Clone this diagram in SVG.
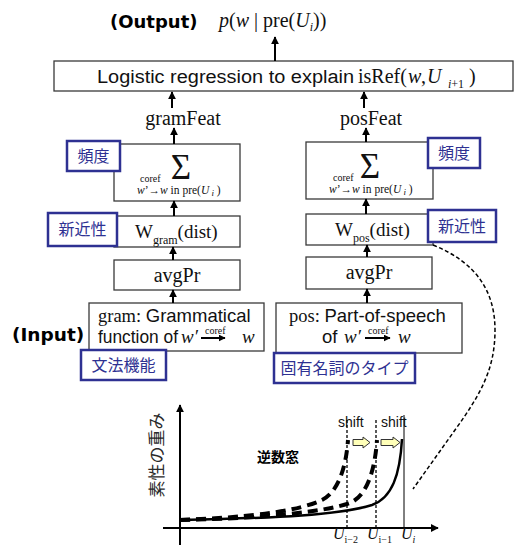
<svg xmlns="http://www.w3.org/2000/svg" width="516" height="549" viewBox="0 0 516 549">
  <style>
    .box { fill: #ffffff; stroke: #3a3a3a; stroke-width: 1.3; }
    .tag { fill: #ffffff; stroke: #2e3192; stroke-width: 2.5; }
    .tagtxt { font-family: "Noto Sans CJK JP", sans-serif; font-size: 16px; fill: #2e3192; text-anchor: middle; }
    .serif { font-family: "Liberation Serif", "Times New Roman", serif; fill: #111; }
    .sans { font-family: "Liberation Sans", Arial, sans-serif; fill: #111; }
    .it { font-style: italic; }
    .bold { font-family: "DejaVu Sans", Verdana, sans-serif; font-weight: bold; fill: #000; }
    .flow { stroke: #000; stroke-width: 2; fill: none; marker-end: url(#head); }
    .axis { stroke: #000; stroke-width: 2; fill: none; marker-end: url(#axhead); }
  </style>
  <defs>
    <marker id="head" viewBox="0 0 10 10" refX="9" refY="5" markerWidth="4" markerHeight="4.5" orient="auto" markerUnits="strokeWidth">
      <path d="M0,0 L10,5 L0,10 Z" fill="#000"/>
    </marker>
    <marker id="axhead" viewBox="0 0 10 10" refX="9" refY="5" markerWidth="4" markerHeight="4" orient="auto" markerUnits="strokeWidth">
      <path d="M0,0 L10,5 L0,10 Z" fill="#000"/>
    </marker>
    <marker id="small" viewBox="0 0 10 10" refX="9" refY="5" markerWidth="3.5" markerHeight="3.5" orient="auto" markerUnits="strokeWidth">
      <path d="M0,0 L10,5 L0,10 Z" fill="#000"/>
    </marker>
  </defs>

  <!-- output label -->
  <g id="output">
    <text class="bold" x="110" y="28" font-size="18">(Output)</text>
    <text class="serif" x="219" y="27" font-size="20"><tspan class="it">p</tspan>(<tspan class="it">w</tspan> | pre(<tspan class="it">U</tspan><tspan font-size="12" class="it" dy="4">i</tspan><tspan dy="-4">))</tspan></text>
  </g>

  <!-- logistic regression -->
  <g id="logreg">
    <rect class="box" x="54" y="61" width="459" height="30" stroke="#222"/>
    <text class="sans" x="97" y="83" font-size="18" textLength="257" lengthAdjust="spacingAndGlyphs">Logistic regression to explain</text>
    <text class="serif" x="358" y="83" font-size="20">isRef(</text>
    <text class="serif it" x="408" y="83" font-size="20">w</text>
    <text class="serif" x="421" y="83" font-size="20">,</text>
    <text class="serif it" x="427" y="83" font-size="20">U</text>
    <text class="serif" x="448" y="88" font-size="12"><tspan class="it">i</tspan>+1</text>
    <text class="serif" x="469" y="83" font-size="20">)</text>
  </g>

  <!-- gram column -->
  <g id="gramFeat">
    <text class="serif" x="183" y="125" font-size="20" text-anchor="middle">gramFeat</text>
  </g>
  <g id="gramSum">
    <rect class="box" x="114" y="144" width="126" height="57"/>
    <text class="serif" x="181" y="179" font-size="35" text-anchor="middle">Σ</text>
    <text class="serif" x="140" y="182" font-size="10">coref</text>
    <text class="serif" x="137" y="194" font-size="11.5"><tspan class="it">w</tspan>’→<tspan class="it">w</tspan> in pre(<tspan class="it">U</tspan><tspan dy="2" font-size="9" class="it"> i</tspan><tspan dy="-2"> )</tspan></text>
  </g>
  <g id="gramW">
    <rect class="box" x="114" y="216" width="126" height="31"/>
    <text class="serif" x="135" y="238" font-size="19">W<tspan font-size="12" dy="6">gram</tspan><tspan dy="-6">(dist)</tspan></text>
  </g>
  <g id="gramAvg">
    <rect class="box" x="114" y="260" width="126" height="30"/>
    <text class="serif" x="177" y="282" font-size="20" text-anchor="middle">avgPr</text>
  </g>
  <g id="gramInput">
    <rect class="box" x="89" y="303" width="175" height="48"/>
    <text x="98" y="322" font-size="18.5"><tspan class="serif">gram: </tspan><tspan class="sans">Grammatical</tspan></text>
    <text class="sans" x="98" y="343" font-size="18" textLength="80" lengthAdjust="spacingAndGlyphs">function of</text>
    <text class="serif it" x="181" y="343" font-size="19">w′</text>
    <text class="serif" x="205" y="334" font-size="10">coref</text>
    <line x1="201" y1="338" x2="225" y2="338" stroke="#000" stroke-width="2" marker-end="url(#small)"/>
    <text class="serif it" x="242" y="343" font-size="19">w</text>
  </g>
  <g id="inputLabel">
    <text class="bold" x="12" y="341" font-size="18.5">(Input)</text>
  </g>

  <!-- pos column -->
  <g id="posFeat">
    <text class="serif" x="371" y="125" font-size="20" text-anchor="middle">posFeat</text>
  </g>
  <g id="posSum">
    <rect class="box" x="306" y="142" width="127" height="57"/>
    <text class="serif" x="370" y="178" font-size="35" text-anchor="middle">Σ</text>
    <text class="serif" x="333" y="181" font-size="10">coref</text>
    <text class="serif" x="329" y="193" font-size="11.5"><tspan class="it">w</tspan>’→<tspan class="it">w</tspan> in pre(<tspan class="it">U</tspan><tspan dy="2" font-size="9" class="it"> i</tspan><tspan dy="-2"> )</tspan></text>
  </g>
  <g id="posW">
    <rect class="box" x="306" y="214" width="127" height="31"/>
    <text class="serif" x="335" y="236" font-size="19">W<tspan font-size="12" dy="6">pos</tspan><tspan dy="-6">(dist)</tspan></text>
  </g>
  <g id="posAvg">
    <rect class="box" x="306" y="257" width="126" height="32"/>
    <text class="serif" x="369" y="279" font-size="20" text-anchor="middle">avgPr</text>
  </g>
  <g id="posInput">
    <rect class="box" x="276" y="303" width="186" height="50"/>
    <text x="289" y="322" font-size="18.5"><tspan class="serif">pos: </tspan><tspan class="sans">Part-of-speech</tspan></text>
    <text class="sans" x="322" y="343" font-size="18.5">of</text>
    <text class="serif it" x="344" y="343" font-size="19">w′</text>
    <text class="serif" x="368" y="334" font-size="10">coref</text>
    <line x1="365" y1="338" x2="390" y2="338" stroke="#000" stroke-width="2" marker-end="url(#small)"/>
    <text class="serif it" x="398" y="343" font-size="19">w</text>
  </g>

  <!-- blue tags -->
  <g id="tagFreqL">
    <rect class="tag" x="67" y="141" width="53" height="30"/>
    <text class="tagtxt" x="93.5" y="162">頻度</text>
  </g>
  <g id="tagRecL">
    <rect class="tag" x="48" y="213" width="69" height="33"/>
    <text class="tagtxt" x="82.5" y="235">新近性</text>
  </g>
  <g id="tagGram">
    <rect class="tag" x="81" y="350" width="85" height="30"/>
    <text class="tagtxt" x="123.5" y="371">文法機能</text>
  </g>
  <g id="tagFreqR">
    <rect class="tag" x="428" y="138" width="52" height="30"/>
    <text class="tagtxt" x="454" y="159">頻度</text>
  </g>
  <g id="tagRecR">
    <rect class="tag" x="428" y="210" width="68" height="32"/>
    <text class="tagtxt" x="462" y="232">新近性</text>
  </g>
  <g id="tagPos">
    <rect class="tag" x="274" y="353" width="141" height="30"/>
    <text class="tagtxt" x="344.5" y="374">固有名詞のタイプ</text>
  </g>

  <!-- connectors -->
  <g id="connectors">
    <line class="flow" x1="275" y1="61" x2="275" y2="37"/>
    <line class="flow" x1="172" y1="108" x2="172" y2="92"/>
    <line class="flow" x1="364" y1="108" x2="364" y2="92"/>
    <line class="flow" x1="174" y1="144" x2="174" y2="128"/>
    <line class="flow" x1="174" y1="216" x2="174" y2="201"/>
    <line class="flow" x1="173" y1="260" x2="173" y2="247"/>
    <line class="flow" x1="173" y1="303" x2="173" y2="290"/>
    <line class="flow" x1="366" y1="142" x2="366" y2="128"/>
    <line class="flow" x1="366" y1="214" x2="366" y2="199"/>
    <line class="flow" x1="367" y1="257" x2="367" y2="245"/>
    <line class="flow" x1="367" y1="303" x2="367" y2="289"/>
    <path d="M433,245 C475,262 495,290 495,330 C495,370 480,395 455,430 L413,489" fill="none" stroke="#000" stroke-width="1.5" stroke-dasharray="4 2.5"/>
  </g>

  <!-- weight curve plot -->
  <g id="plot">
    <line class="axis" x1="180" y1="545" x2="180" y2="405"/>
    <line class="axis" x1="163" y1="528" x2="438" y2="528"/>
    <text font-family="'Noto Sans CJK JP', sans-serif" font-size="17" fill="#2a2a2a" text-anchor="middle" transform="translate(163,455) rotate(-90)">素性の重み</text>
    <text font-family="'Noto Sans CJK JP', sans-serif" font-size="14" font-weight="bold" fill="#000" x="257" y="462">逆数窓</text>

    <line x1="347" y1="420" x2="347" y2="528" stroke="#000" stroke-width="1.3" stroke-dasharray="3 2"/>
    <line x1="376" y1="420" x2="376" y2="528" stroke="#000" stroke-width="1.3" stroke-dasharray="3 2"/>
    <line x1="404" y1="415" x2="404" y2="528" stroke="#000" stroke-width="1"/>

    <path d="M180,520 C260,517 300,510 322,500 C338,492 346,468 348,440" fill="none" stroke="#000" stroke-width="4" stroke-dasharray="10 6"/>
    <path d="M180,520 C280,518 330,510 350,503 C368,495 375,468 377,440" fill="none" stroke="#000" stroke-width="4" stroke-dasharray="10 6"/>
    <path d="M180,520 C280,518 340,515 372,505 C392,498 400,475 402,439" fill="none" stroke="#000" stroke-width="2.5"/>

    <text class="sans" x="338" y="427" font-size="14">shift</text>
    <text class="sans" x="381" y="427" font-size="14">shift</text>
    <path d="M353,439.5 H363 V437 L370,442.5 L363,448 V445.5 H353 Z" fill="#ffffb8" stroke="#333" stroke-width="1"/>
    <path d="M381,439.5 H393 V437 L400,442.5 L393,448 V445.5 H381 Z" fill="#ffffb8" stroke="#333" stroke-width="1"/>

    <text class="serif it" x="333" y="539" font-size="16" fill="#333">U<tspan font-size="10" dy="4" font-style="normal">i−2</tspan></text>
    <text class="serif it" x="367" y="539" font-size="16" fill="#333">U<tspan font-size="10" dy="4" font-style="normal">i−1</tspan></text>
    <text class="serif it" x="401" y="539" font-size="16" fill="#333">U<tspan font-size="10" dy="4">i</tspan></text>
  </g>
</svg>
